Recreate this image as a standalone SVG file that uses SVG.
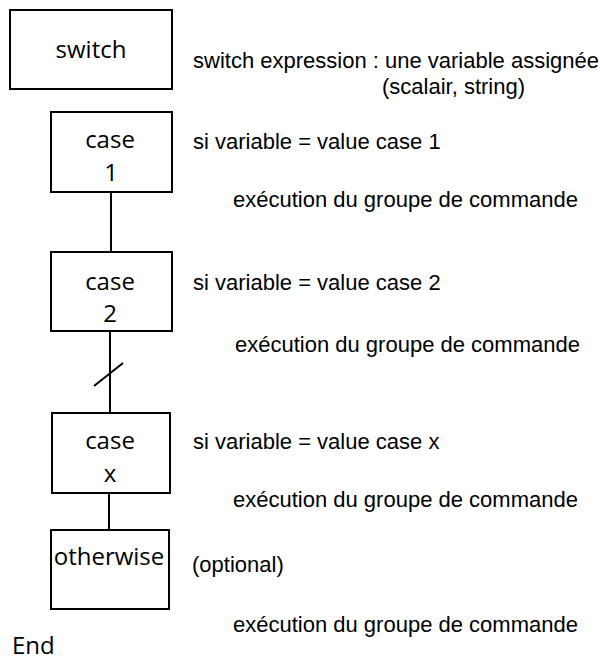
<svg xmlns="http://www.w3.org/2000/svg" width="606" height="660" viewBox="0 0 606 660">
  <style>
    .box { fill: #ffffff; stroke: #000000; stroke-width: 2; }
    .box-label { font-family: "Open Sans", "Noto Sans", sans-serif; font-size: 24px; fill: #000000; text-anchor: middle; }
    .note { font-family: "Liberation Sans", Arial, sans-serif; font-size: 22px; fill: #000000; }
    .link { stroke: #000000; stroke-width: 2; fill: none; }
  </style>
  <rect width="606" height="660" fill="#ffffff"/>

  <!-- connectors between the case boxes -->
  <g id="connectors">
    <line class="link" x1="111" y1="192" x2="111" y2="252"/>
    <line class="link" x1="110" y1="331" x2="110" y2="413"/>
    <line class="link" x1="94" y1="386" x2="123" y2="363"/>
    <line class="link" x1="109" y1="493" x2="109" y2="530"/>
  </g>

  <g id="switch">
    <rect class="box" x="10" y="10" width="162" height="79"/>
    <text class="box-label" x="91" y="58">switch</text>
  </g>

  <g id="case1">
    <rect class="box" x="51" y="112" width="121" height="80"/>
    <text class="box-label" x="110" y="148">case</text>
    <text class="box-label" x="111" y="181">1</text>
  </g>

  <g id="case2">
    <rect class="box" x="51" y="252" width="121" height="79"/>
    <text class="box-label" x="110" y="290">case</text>
    <text class="box-label" x="110" y="322">2</text>
  </g>

  <g id="casex">
    <rect class="box" x="52" y="413" width="118" height="80"/>
    <text class="box-label" x="110" y="449">case</text>
    <text class="box-label" x="110" y="482">x</text>
  </g>

  <g id="otherwise">
    <rect class="box" x="51" y="530" width="118" height="79"/>
    <text class="box-label" x="109" y="565">otherwise</text>
  </g>

  <g id="end">
    <text class="box-label" x="12" y="654" style="text-anchor:start">End</text>
  </g>

  <!-- explanatory notes -->
  <g id="notes">
    <text class="note" x="193" y="68">switch expression : une variable assignée</text>
    <text class="note" x="382" y="94">(scalair, string)</text>
    <text class="note" x="193" y="149">si variable = value case 1</text>
    <text class="note" x="233" y="207">exécution du groupe de commande</text>
    <text class="note" x="193" y="290">si variable = value case 2</text>
    <text class="note" x="235" y="352">exécution du groupe de commande</text>
    <text class="note" x="193" y="449">si variable = value case x</text>
    <text class="note" x="233" y="507">exécution du groupe de commande</text>
    <text class="note" x="192" y="572">(optional)</text>
    <text class="note" x="233" y="632">exécution du groupe de commande</text>
  </g>
</svg>
